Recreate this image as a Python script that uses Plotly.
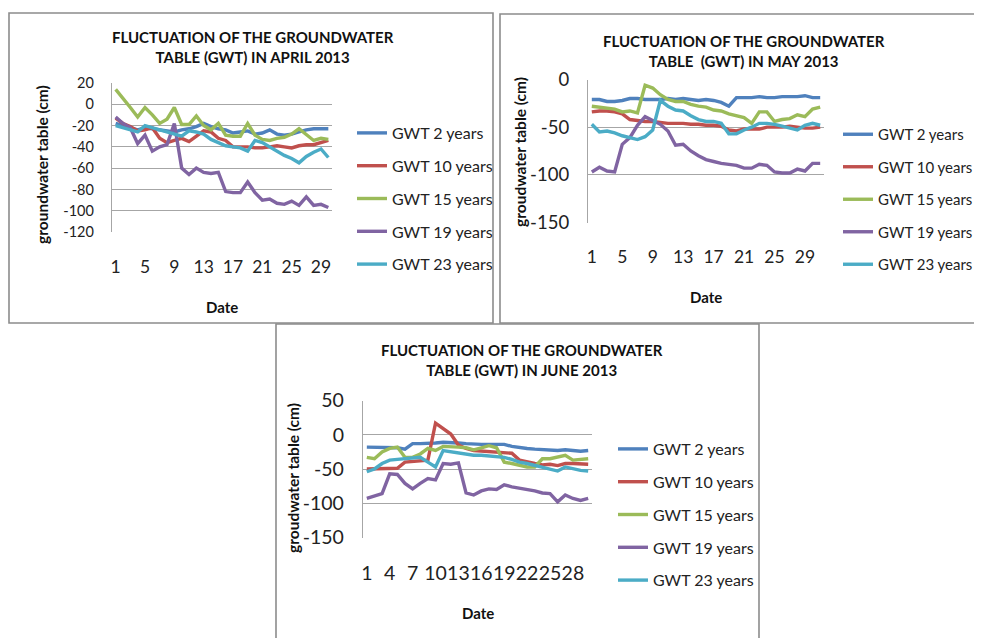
import plotly.graph_objects as go

# ---------------- data ----------------
series_names = ["GWT 2 years", "GWT 10 years", "GWT 15 years", "GWT 19 years", "GWT 23 years"]
colors = ["#4F81BD", "#C0504D", "#9BBB59", "#8064A2", "#4BACC6"]

april_days = list(range(1, 31))
april_gwt2 = [-18, -20, -22, -24, -22, -23, -24, -25, -26, -24, -23, -21, -18, -21, -23,
              -24, -27, -26, -25, -28, -27, -24, -28, -29, -28, -26, -24, -23, -23, -23]
april_gwt10 = [-13, -18, -21, -25, -24, -22, -32, -36, -34, -32, -35, -30, -25, -26, -32,
               -34, -40, -40, -40, -41, -41, -40, -39, -40, -41, -39, -38, -38, -36, -34]
april_gwt15 = [14, 6, -3, -12, -3, -10, -18, -14, -3, -19, -19, -11, -20, -24, -18,
               -29, -30, -30, -18, -29, -33, -34, -32, -31, -28, -23, -29, -34, -32, -33]
april_gwt19 = [-12, -18, -22, -37, -29, -44, -40, -38, -18, -60, -66, -60, -64, -65, -64,
               -82, -83, -83, -73, -83, -90, -89, -93, -94, -91, -95, -87, -95, -94, -97]
april_gwt23 = [-20, -22, -24, -26, -20, -22, -24, -26, -28, -30, -25, -26, -28, -33, -36,
               -39, -40, -41, -44, -34, -36, -40, -44, -48, -51, -55, -49, -45, -42, -50]

may_days = list(range(1, 32))
may_gwt2 = [-21, -21, -23, -23, -22, -20, -20, -21, -21, -21, -20, -21, -20, -21, -22, -21,
            -22, -24, -28, -19, -19, -19, -18, -19, -19, -18, -18, -18, -17, -19, -19]
may_gwt10 = [-34, -33, -33, -34, -36, -42, -43, -44, -44, -45, -46, -46, -46, -47, -47, -48,
             -48, -49, -53, -54, -52, -52, -52, -50, -50, -50, -49, -50, -51, -51, -50]
may_gwt15 = [-28, -29, -30, -31, -34, -33, -35, -6, -9, -16, -21, -23, -23, -26, -28, -29,
             -32, -33, -36, -38, -40, -46, -34, -34, -44, -42, -41, -37, -39, -31, -29]
may_gwt19 = [-97, -92, -96, -97, -68, -61, -48, -39, -43, -47, -54, -69, -68, -75, -80, -84,
             -86, -88, -89, -90, -93, -93, -89, -90, -97, -98, -98, -94, -96, -88, -88]
may_gwt23 = [-47, -55, -54, -56, -59, -61, -63, -60, -53, -22, -28, -32, -33, -38, -42, -44,
             -44, -46, -57, -57, -53, -50, -46, -46, -47, -49, -51, -53, -48, -46, -48]

june_days = list(range(1, 31))
june_gwt2 = [-18, -18, -18, -18, -19, -21, -13, -13, -13, -12, -11, -11, -12, -13, -14,
             -14, -14, -14, -14, -17, -19, -20, -21, -22, -23, -23, -22, -23, -24, -23]
june_gwt10 = [-50, -50, -50, -50, -49, -40, -39, -39, -37, 17, 9, 1, -15, -20, -23,
              -24, -25, -26, -27, -27, -37, -40, -42, -44, -43, -45, -42, -42, -43, -43]
june_gwt15 = [-33, -35, -25, -20, -18, -33, -33, -28, -20, -23, -17, -17, -18, -19, -22,
              -19, -16, -19, -40, -42, -45, -47, -47, -35, -35, -33, -30, -37, -36, -35]
june_gwt19 = [-93, -90, -86, -57, -58, -71, -79, -71, -64, -66, -42, -43, -41, -85, -88,
              -82, -79, -80, -73, -76, -78, -79, -82, -85, -86, -98, -88, -93, -96, -93]
june_gwt23 = [-54, -50, -42, -37, -36, -35, -34, -33, -40, -47, -23, -25, -27, -29, -30,
              -30, -31, -32, -33, -36, -40, -42, -45, -47, -50, -53, -47, -50, -52, -53]

april_ticks = [1, 5, 9, 13, 17, 21, 25, 29]
may_ticks = [1, 5, 9, 13, 17, 21, 25, 29]
june_ticks = [1, 4, 7, 10, 13, 16, 19, 22, 25, 28]

april_yticks = [20, 0, -20, -40, -60, -80, -100, -120]
may_yticks = [0, -50, -100, -150]
june_yticks = [50, 0, -50, -100, -150]

titles = ["FLUCTUATION OF THE GROUNDWATER<br>TABLE (GWT) IN APRIL 2013",
          "FLUCTUATION OF THE GROUNDWATER<br>TABLE \u00a0(GWT) IN MAY 2013",
          "FLUCTUATION OF THE GROUNDWATER<br>TABLE (GWT) IN JUNE 2013"]
ytitles = ["groundwater table (cm)", "groudwater table (cm)", "groudwater table (cm)"]
xtitle = "Date"

# ---------------- layout helpers ----------------
OFF = 8  # page body margin
W, H = 982 + OFF, 638 + OFF
FONT = "Lato"


def fx(px):
    return (px - OFF) / W


def fy(py):
    return 1 - (py - OFF) / H


fig = go.Figure()

panels = [
    dict(days=april_days, data=[april_gwt2, april_gwt10, april_gwt15, april_gwt19, april_gwt23],
         ticks=april_ticks, yticks=april_yticks, yr=[-120, 20], yfs=14.5, xfs=17.5, lfs=16,
         px=(112, 332), py=(83, 232), leg=(352, 116), title=(253, 47), ytit=(42, 165), xtit=(222, 307)),
    dict(days=may_days, data=[may_gwt2, may_gwt10, may_gwt15, may_gwt19, may_gwt23],
         ticks=may_ticks, yticks=may_yticks, yr=[-150, 0], yfs=18.5, xfs=17.5, lfs=15,
         px=(588, 824), py=(79.5, 222.5), leg=(838, 118), title=(744, 51), ytit=(520, 152), xtit=(706, 297)),
    dict(days=june_days, data=[june_gwt2, june_gwt10, june_gwt15, june_gwt19, june_gwt23],
         ticks=june_ticks, yticks=june_yticks, yr=[-150, 50], yfs=19.5, xfs=19.5, lfs=16,
         px=(363, 592), py=(400.5, 537.5), leg=(613, 432), title=(522, 360), ytit=(293, 478), xtit=(478, 613)),
]

annotations = []
for k, p in enumerate(panels):
    sfx = "" if k == 0 else str(k + 1)
    xa, ya = "x" + sfx, "y" + sfx
    legname = "legend" + sfx
    for j, name in enumerate(series_names):
        fig.add_trace(go.Scatter(
            x=p["days"], y=p["data"][j], mode="lines", name=name,
            line=dict(color=colors[j], width=3.4),
            xaxis=xa, yaxis=ya, legend=legname, legendgroup=f"p{k}s{j}",
        ))
    fig.update_layout(**{
        ("xaxis" + sfx): dict(
            domain=[fx(p["px"][0]), fx(p["px"][1])], anchor=ya, automargin=False,
            range=[0.5, len(p["days"]) + 0.5], tickmode="array",
            tickvals=p["ticks"], ticktext=[str(t) for t in p["ticks"]], tickangle=0,
            showgrid=False, zeroline=False, showline=False, ticks="",
            ticklabelstandoff=22, tickfont=dict(family=FONT, size=p["xfs"], color="#222"),
        ),
        ("yaxis" + sfx): dict(
            domain=[fy(p["py"][1]), fy(p["py"][0])], anchor=xa, automargin=False,
            range=p["yr"], tickmode="array", tickvals=p["yticks"],
            ticktext=[str(t) for t in p["yticks"]],
            showgrid=True, gridcolor="#A6A6A6", gridwidth=1.3, zeroline=False,
            showline=True, linecolor="#A6A6A6", linewidth=1.3, ticks="",
            ticklabelstandoff=14, tickfont=dict(family=FONT, size=p["yfs"], color="#222"),
        ),
        legname: dict(
            x=fx(p["leg"][0]), y=fy(p["leg"][1]), xanchor="left", yanchor="top",
            font=dict(family=FONT, size=p["lfs"], color="#222"), bgcolor="rgba(0,0,0,0)",
            tracegroupgap=9 if p["lfs"] >= 16 else 10, traceorder="grouped",
        ),
    })
    annotations.append(dict(
        text="<b>" + titles[k] + "</b>", x=fx(p["title"][0]), y=fy(p["title"][1]),
        xref="paper", yref="paper", showarrow=False, xanchor="center", yanchor="middle",
        font=dict(family=FONT, size=15, color="#111"), align="center"))
    annotations.append(dict(
        text="<b>" + ytitles[k] + "</b>", x=fx(p["ytit"][0]), y=fy(p["ytit"][1]),
        xref="paper", yref="paper", showarrow=False, textangle=-90,
        xanchor="center", yanchor="middle", font=dict(family=FONT, size=15.5, color="#111")))
    annotations.append(dict(
        text="<b>" + xtitle + "</b>", x=fx(p["xtit"][0]), y=fy(p["xtit"][1]),
        xref="paper", yref="paper", showarrow=False, xanchor="center", yanchor="middle",
        font=dict(family=FONT, size=15, color="#111")))

border = dict(color="#8C8C8C", width=1.6)
shapes = [
    dict(type="rect", xref="paper", yref="paper", x0=fx(9), x1=fx(493), y0=fy(323), y1=fy(13), line=border),
    dict(type="rect", xref="paper", yref="paper", x0=fx(500), x1=fx(995), y0=fy(323), y1=fy(14), line=border),
    dict(type="rect", xref="paper", yref="paper", x0=fx(276), x1=fx(759), y0=fy(650), y1=fy(324), line=border),
]

fig.update_layout(
    width=W, height=H, autosize=False,
    margin=dict(l=0, r=0, t=0, b=0, autoexpand=False),
    paper_bgcolor="white", plot_bgcolor="white",
    annotations=annotations, shapes=shapes,
    font=dict(family=FONT),
)

fig.write_html("out.html")
